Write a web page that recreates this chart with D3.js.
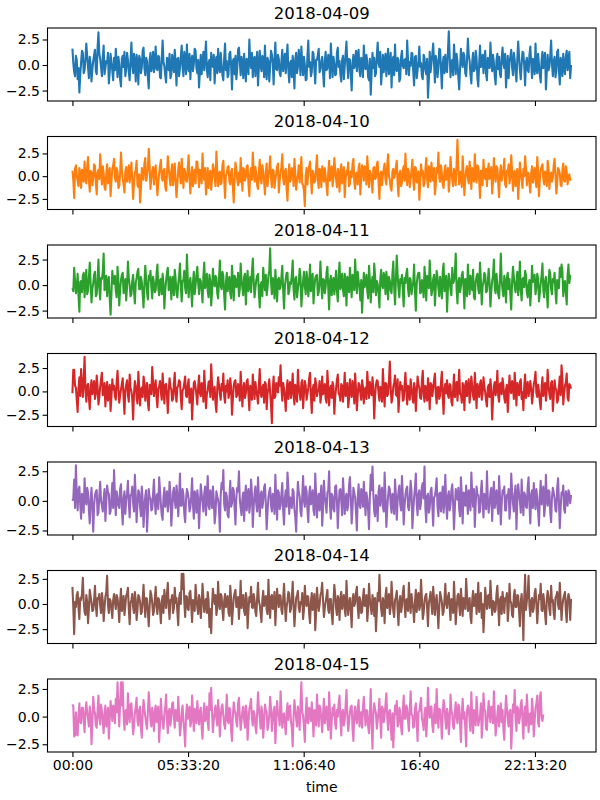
<!DOCTYPE html>
<html>
<head>
<meta charset="utf-8">
<script src="https://cdn.jsdelivr.net/npm/d3@7"></script>
<style>
  body { margin: 0; background: #fff; }
  text { font-family: "DejaVu Sans", sans-serif; fill: #000; }
</style>
</head>
<body>
<div id="chart"></div>
<script>
// one value every 150 s, seconds since midnight
const stepSeconds = 150;

const days = ["2018-04-09", "2018-04-10", "2018-04-11", "2018-04-12", "2018-04-13", "2018-04-14", "2018-04-15"];
const colors = ["#1f77b4", "#ff7f0e", "#2ca02c", "#d62728", "#9467bd", "#8c564b", "#e377c2"];

const xTicks = [0, 20000, 40000, 60000, 80000];
const xTickLabels = ["00:00", "05:33:20", "11:06:40", "16:40", "22:13:20"];
const yTicks = [-2.5, 0, 2.5];

const day09 = [
  1.6, 0.2, -0.7, -1.1, 0.9, 0.5, -1.4, -0.3, -2.7, -1.0, 0.3, 1.4, 1.2, -0.8, -0.5, 0.6, 2.1, 0.9, -0.2, -1.3, 0.8, 0.1, -1.6, -0.4, 0.4, 1.0, 1.5, -0.6, -0.9, 1.7, 3.2, 1.1, 0.6, -0.2, -1.1, 0.8, 1.9, -0.9, -0.3, 0.4, 0.2, 1.2, -1.8, -0.7, 1.1, 0.3, -0.6, -1.5,
  0.7, -0.5, 1.6, 0.3, -1.2, 0.8, 0.1, -1.4, -2.1, 0.6, 0.9, -0.2, 1.3, -1.1, -0.4, 1.2, 0.5, -0.7, -1.5, 0.4, 2.2, 0.0, -0.8, 1.1, 0.3, -1.6, 1.0, 0.2, -1.9, 0.9, 0.6, -0.8, -0.2, 1.4, 1.7, -0.3, -1.0, 0.7, 0.4, -1.2, -2.3, 0.5, 1.2, -0.6, 0.0, 1.3, -0.7, 0.2,
  1.8, -0.4, -0.5, 0.9, 0.8, -1.2, -1.3, 0.5, 2.4, 0.3, -0.1, -1.0, -1.7, 0.7, 0.6, -0.5, 1.1, -1.3, -0.9, 1.0, 0.2, -0.7, 1.5, 0.2, -2.0, 0.6, 0.7, -1.1, -0.3, 0.8, 1.9, -0.2, -1.1, 1.3, 0.4, -0.9, 2.0, -0.1, -0.6, 1.1, -1.4, 0.4, 0.9, -0.6, 0.1, 1.6, 1.4, -0.3,
  -0.8, 0.5, -2.2, -0.6, 1.0, -0.9, 0.3, 1.3, -0.5, 0.8, 2.3, -0.4, -1.2, 0.2, 0.5, -1.5, 1.2, 0.1, -0.2, 1.0, -1.8, 0.3, 0.8, -0.8, 1.6, -0.3, -0.7, 1.2, 0.0, -1.0, -1.5, 0.7, 2.1, -0.5, 0.4, -1.2, -0.9, 1.1, 1.3, -0.1, -2.4, 0.4, 0.6, -0.9, 0.9, -1.4, -0.4, 1.5,
  1.7, 0.3, -1.0, 0.8, 0.2, -1.3, 1.1, -0.2, -1.6, 0.6, 0.5, -0.9, 2.5, 0.4, -0.3, 1.2, -1.2, 0.5, 0.8, -1.1, 0.1, 1.3, -2.0, -0.3, 1.4, 0.0, -0.6, 0.9, 0.7, -1.2, 1.9, -0.5, -1.4, 0.7, 0.3, -1.6, -0.1, 1.4, 1.0, 0.2, -1.9, 0.6, 2.2, -0.4, -0.5, 1.0, 0.6, -0.8,
  -1.1, 0.4, 1.5, -0.6, 0.2, 1.1, -0.8, 0.7, 2.0, -0.5, -1.7, 0.2, 0.4, -1.2, 0.9, -0.3, -2.3, 0.6, 1.2, -0.8, -0.2, 1.5, 0.6, -1.0, 1.8, 0.1, -1.0, 0.8, 0.0, -1.5, -1.4, 0.9, 2.4, -0.2, 0.3, -1.1, -0.7, 1.3, 1.1, -0.4, -1.8, 0.5, 0.5, 1.0, 1.6, -0.7, -0.4, 0.3,
  0.8, -0.7, -2.1, 0.4, 1.3, -0.5, -0.3, 1.0, 0.7, -1.3, 2.1, 0.3, -1.2, 0.8, 0.1, -1.0, -0.9, 1.2, 1.7, -0.2, 0.4, -0.9, -1.6, 0.5, 0.9, -1.4, -0.1, 1.1, 2.3, 0.0, -1.3, 0.6, 0.5, -0.8, -2.5, 0.2, 1.0, -0.3, 0.2, 1.4, -0.6, 0.9, 1.5, -0.6, -1.1, 0.7, 0.6, -1.2,
  1.9, 0.1, -0.4, 1.0, 0.3, -1.2, -1.5, 0.6, -2.9, -0.8, 1.2, -0.3, 0.7, -1.1, -0.8, 0.9, 2.2, 0.2, -0.2, 1.3, -1.9, -0.5, 1.0, -0.7, 0.4, 1.1, -1.1, 0.4, 1.6, -0.9, 0.0, 1.2, -2.2, 0.3, 0.8, -1.0, 2.0, -0.4, -0.6, 0.7, 0.5, -1.6, -1.3, 0.8, 1.4, -0.1, -0.3, 0.5,
  0.6, -0.9, 2.4, 0.5, -1.0, 0.3, -0.1, 1.2, 1.1, -0.6, -2.0, 0.8, 0.9, -1.3, -0.5, 0.4, 1.8, -0.2, 0.2, -1.1, -1.4, 1.0, 0.7, -0.5, -0.9, 0.6, -3.2, -1.4, 1.3, -0.7, 0.1, 1.1, 2.1, 0.2, -1.7, 0.9, 0.4, -1.2, -0.3, 1.6, 1.5, -0.4, -2.3, 0.1, 0.8, -0.8, 1.0, -0.5,
  -0.7, 1.3, 3.3, 0.9, -1.2, 0.2, 0.5, -1.0, 2.0, 0.6, -0.9, 1.1, 0.3, -1.2, -2.4, -0.3, 1.6, 0.4, -0.2, 1.2, 0.9, -0.8, -1.1, 0.5, 2.6, 1.0, 0.4, -0.9, -1.8, 0.3, 1.2, -0.6, -0.4, 1.4, 0.7, -1.3, -2.1, 0.1, 1.9, -0.2, 0.0, 1.0, -0.8, 0.6, 1.4, -0.9, -1.5, 0.7,
  0.6, -0.3, 2.2, 0.4, -0.6, 1.0, 0.2, -1.1, -1.9, 0.5, 1.1, -0.4, 0.8, -0.9, -1.2, 0.7, 1.7, 0.2, -0.3, 1.1, -2.2, -0.6, 0.9, -1.3, 0.3, 0.8, 1.5, -0.2, -1.0, 1.2, 0.5, -0.8, -1.6, 0.6, 2.3, 0.9, -0.5, -1.4, 0.1, 1.3, 1.2, -0.1, -2.0, 0.3, 0.7, -0.5, -0.7, 1.0,
  1.8, 0.2, -1.3, 0.6, 0.4, -0.9, 2.1, -0.4, -0.8, 1.1, 0.0, -1.0, -1.7, 0.5, 1.3, -0.3, 0.6, 1.2, -2.4, -0.7, 1.0, -0.5, -0.2, 0.9, 2.4, 0.1, -1.1, 0.4, 0.8, -1.2, -0.6, 1.3, 1.5, -0.6, -1.9, 0.7, 0.3, -1.1, 1.1, -0.2, -0.9, 0.8, 1.4, -0.5, 0.5, 1.3, -1.3, 0.0
];

const day10 = [
  0.6, -0.4, -2.4, 0.8, 1.2, 0.1, -0.5, -1.1, 0.9, 0.3, -1.3, 0.7, 0.2, -0.6, 1.6, -0.2, -0.8, 1.0, 2.1, -0.5, -1.7, 0.6, 0.4, -1.0, -0.2, 1.3, 1.1, -0.7, -2.0, 0.4, 0.7, -0.3, 2.4, 0.5, -0.9, 1.1, 0.3, -1.2, -1.5, 0.2, 1.3, -0.8, 0.0, 0.9, -2.2, -0.5, 0.8, 1.2,
  1.9, -0.2, -0.6, 0.9, 0.5, -1.3, -1.1, 0.4, 2.6, 0.7, -0.3, -0.9, -1.8, 0.5, 1.0, -0.6, 0.2, 1.2, -0.7, 0.3, 1.5, -0.4, -2.5, -0.8, 0.4, 0.6, 1.7, -1.0, -1.2, 0.2, -2.9, -1.4, 0.9, 0.3, -0.4, 1.4, 2.0, -0.5, 0.1, 0.8, 3.0, 1.2, -1.4, -0.1, 0.6, 1.0, -0.9, 0.4,
  1.2, -0.5, -2.1, -0.7, 0.3, 1.1, 1.8, -0.2, -0.5, 0.6, 0.8, -1.2, -1.6, 0.3, 2.2, 0.9, -0.1, -1.0, 0.5, 1.3, -1.0, 0.2, 1.4, -0.6, -2.3, -0.9, 0.7, 1.5, 0.0, -0.8, 1.9, 0.4, -1.3, 0.8, 0.4, -0.5, -0.6, 1.0, 2.3, -0.3, -1.9, 0.1, 1.0, -1.1, 0.2, 0.7, -0.8, 1.6,
  1.6, 0.2, -1.2, 0.7, 0.6, -0.8, 2.5, 0.4, -0.4, 0.9, -2.0, -0.6, 0.9, -1.3, 0.1, 0.6, -1.5, -0.2, 1.3, 0.8, -0.2, -1.1, 2.7, 0.5, -1.1, 0.3, 0.5, -0.9, -0.7, 1.2, 1.7, -0.4, -2.4, 0.1, 0.3, 1.0, 1.1, -0.6, -0.9, 0.5, 0.8, -1.2, -2.9, -0.3, 1.5, 0.8, -0.3, -1.0,
  0.4, -0.7, 2.0, 0.3, -1.6, 0.9, 0.7, -0.5, -0.1, 1.1, 1.2, -0.9, -2.2, 0.2, 0.9, -0.4, 2.6, 0.6, -0.6, 1.0, 0.2, -1.0, -1.4, 0.5, 1.8, -0.3, -0.8, 1.2, 0.5, -0.6, -2.0, 0.4, 1.4, -1.1, 0.0, 0.8, 2.2, -0.2, -1.2, 0.7, 0.6, -1.3, -0.4, 0.3, 1.0, 1.4, -1.8, -0.5,
  0.3, 1.0, 2.4, -0.3, -0.9, 0.5, 0.8, -1.4, -2.7, 0.2, 1.3, -0.6, -0.2, 0.9, 0.6, -1.1, 1.9, 0.3, -1.5, -0.4, 0.1, 1.2, -0.7, 0.4, 2.1, -0.8, -1.0, -1.6, -3.3, 0.1, 0.9, -0.9, 0.4, 1.1, 1.6, -0.2, -1.9, 0.6, 0.2, -0.7, -0.5, 1.0, 2.3, -0.4, -1.3, 0.8, 0.7, -1.2,
  1.1, 0.3, -0.6, 0.9, 0.0, -1.0, -2.1, 0.4, 1.7, -0.5, 0.5, 1.1, -1.1, -0.2, 2.0, 0.7, -0.3, -1.2, 0.8, 0.1, -1.7, 0.6, 1.3, -0.8, 0.2, 1.0, -2.3, -0.4, 0.6, 0.2, 1.5, -1.1, -0.8, 0.5, -0.1, 1.3, 1.9, -0.6, -1.4, 0.3, 0.4, -0.9, 0.9, 1.4, -2.0, -0.2, 1.2, 0.6,
  -0.5, 1.1, 0.7, -0.9, 2.2, 0.4, -1.2, 0.6, 0.3, -0.6, -1.8, 0.9, 1.0, -0.3, -0.2, 1.3, 1.6, -0.7, -2.5, 0.2, 0.5, -1.0, 0.1, 0.8, 1.4, -0.4, -0.9, 1.2, 2.4, 0.0, -0.4, -1.3, -1.6, 0.5, 0.8, -0.2, 0.2, 1.0, 1.7, -0.8, -2.2, 0.3, 0.6, -1.1, -0.7, 0.7, 1.1, -0.5,
  2.5, 0.2, -1.0, 0.8, 0.4, -1.2, -0.3, 0.6, 1.8, -0.4, -1.5, 1.0, 0.9, -0.7, 0.0, 0.5, -2.6, -0.9, 1.3, 0.1, 0.6, -1.1, -0.8, 0.7, 2.0, -0.3, -1.2, 1.1, 0.2, -0.6, 1.5, 0.3, -0.5, 0.9, -2.0, -1.0, 0.9, 0.4, 2.6, -0.2, -0.6, 1.2, 0.3, -0.9, -1.3, 0.5, 1.2, -0.4,
  0.1, 0.9, -1.7, -0.5, 2.1, 0.6, -0.4, -1.1, 0.8, 0.3, -1.0, 1.4, 4.0, 0.8, -0.9, 0.4, 0.5, -1.2, 2.2, 0.2, -2.1, -0.3, 0.7, 1.1, -0.2, -0.8, 1.6, 0.5, -1.4, 0.9, 0.3, -0.6, 2.4, 0.1, -0.7, 1.2, 1.0, -0.4, -2.4, 0.6, 0.6, -1.0, 1.8, 0.2, -0.3, 0.8, -1.1, 0.5,
  1.4, -0.3, 0.2, 1.0, -1.9, -0.6, 2.0, 0.4, -0.6, 1.1, 0.9, -0.8, -2.3, 0.3, 1.2, -0.5, 0.0, 0.7, 1.9, -0.9, -1.2, 0.6, 0.4, 1.3, -0.8, -0.1, 2.3, 0.5, -1.6, 0.2, 0.6, -1.1, 0.1, 0.8, -2.5, -0.7, 1.5, 0.4, -0.4, -1.3, 0.8, 0.0, 2.2, 0.9, -1.0, 0.4, 0.3, -0.9,
  -1.8, 0.3, 1.1, -0.7, 0.5, 0.9, -0.5, -1.2, 2.1, 0.6, -2.2, -0.4, 0.7, 1.0, 1.3, -0.3, -0.9, 0.5, 0.2, -1.1, 1.7, 0.8, -1.4, 0.1, 0.4, -0.6, -0.1, 1.2, 1.9, 0.2, -1.9, -0.8, 0.9, 0.7, 0.3, -1.0, -1.1, 0.6, 1.4, -0.5, -0.6, 1.1, 0.5, -0.9, -0.2, 0.2, -0.4, -0.3
];

const day11 = [
  -0.3, -0.6, 1.7, 0.4, -0.8, -0.2, 1.1, -1.0, -2.6, 0.3, 0.4, -0.7, 0.9, 1.2, -1.2, 0.5, 1.5, -0.9, -0.5, 0.8, 2.2, 0.1, -1.7, -0.4, 0.2, 1.0, 1.3, -1.1, -0.9, 0.6, 2.5, -0.3, -1.4, 0.7, 0.6, 1.3, 3.1, -0.5, -0.2, 0.9, -1.1, 0.2, 0.8, -1.3, -2.9, -0.8, 1.4, 0.4,
  0.1, 0.9, -0.6, -1.2, 1.8, 0.3, -2.0, -0.5, 0.5, 1.0, 1.2, -0.8, -0.3, 0.6, -1.5, -0.1, 2.3, 0.7, 0.0, -1.1, -0.9, 0.4, 1.0, -0.6, -1.8, 0.2, 0.7, 1.3, 1.6, -0.4, -0.4, 0.8, 0.3, -0.9, -2.2, 0.1, 1.9, 0.6, -0.7, -1.4, 0.9, 0.5, 1.4, -0.2, -1.3, 0.8, 0.2, -0.7,
  -0.5, 1.1, 2.0, -0.3, -1.0, 0.5, 0.6, -0.9, 1.1, 0.2, -2.3, -0.6, 0.4, 1.2, 1.7, -0.5, -0.2, 0.8, -1.4, 0.3, 0.8, -1.0, 1.5, 0.6, -0.8, -1.2, 0.1, 0.9, 2.1, -0.2, -1.6, 0.4, 0.5, 1.4, -0.3, -0.8, 3.0, 0.7, -1.2, 0.1, 0.7, -0.6, -2.1, 0.3, 1.3, -0.9, 0.0, 1.0,
  1.8, 0.2, -0.9, 0.6, 0.4, -0.5, -1.7, 0.8, 2.2, -0.3, 0.2, 1.1, -0.6, -1.2, 1.0, 0.4, -2.0, -0.7, 1.6, 0.3, -0.1, 0.9, 0.7, -0.8, -1.3, 0.5, 2.4, -0.1, -0.4, 1.3, 0.9, -1.0, -2.4, 0.2, 1.2, -0.6, 0.3, 0.8, -0.8, -1.3, 1.9, 0.4, -1.5, 0.9, 0.6, -0.2, 0.1, 1.2,
  -1.1, -0.4, 2.1, 0.5, -0.3, -1.0, 0.8, 1.1, -1.9, 0.2, 1.4, -0.6, 0.0, 0.8, -0.7, 1.3, 2.6, 0.4, -1.2, -0.3, 0.5, 0.9, 1.1, -0.8, -2.2, 0.0, 0.3, -1.1, 1.7, 0.6, -0.5, 1.0, -1.0, -0.2, 0.9, 1.4, 3.6, 0.3, -0.9, 0.7, 0.2, -1.3, 1.5, 0.1, -1.6, 0.5, 0.7, -0.4,
  -0.2, 0.8, 1.9, -0.5, -2.3, -0.1, 0.6, 1.2, 1.2, -0.9, -0.6, 0.3, 0.1, 1.0, 2.4, -0.4, -1.4, 0.6, 0.8, -1.2, -0.4, 0.2, 1.6, 0.9, -2.1, -0.7, 0.4, 1.3, -0.1, -0.9, 1.3, 0.5, -1.1, 0.1, 2.0, -0.6, 0.2, 1.1, -1.8, -0.3, 0.7, 0.9, 1.0, -1.0, -0.7, 0.4, 2.3, 0.0,
  -1.3, 0.6, 0.5, -0.8, -0.2, 1.2, 1.8, -0.3, -2.4, 0.4, 0.9, -1.0, 0.3, 0.7, -0.9, 0.1, 1.4, -0.6, -1.6, 0.9, 2.2, -0.4, 0.0, 1.1, -0.5, -1.1, 1.1, 0.3, -2.0, 0.8, 0.6, -0.7, 1.7, 0.2, -1.2, 1.0, 0.2, -0.5, 2.5, 0.6, -0.8, 1.3, 0.4, -0.3, -1.5, 0.5, -2.7, -0.6,
  1.2, -0.2, 0.3, 1.0, -0.6, -1.3, 1.9, 0.5, -1.7, 0.2, 0.8, -0.7, 2.1, 0.9, -1.0, 0.4, 0.1, -0.8, -2.2, 0.6, 1.5, -0.1, -0.3, 1.2, 0.7, -0.9, 1.3, 0.3, -1.4, 0.8, 0.4, -0.5, -0.8, 1.1, 2.3, -0.2, -1.9, 0.5, 2.9, 1.0, -0.4, -1.2, 0.6, 0.2, 1.0, -0.6, -2.1, 0.7,
  0.2, 1.1, 1.6, -0.4, -1.1, 0.7, 0.5, -0.9, -0.2, 0.3, 2.0, -0.6, -2.5, 0.1, 0.9, 1.2, 1.2, -0.8, -0.7, 0.5, 0.0, -1.2, 1.8, 0.4, -1.5, 0.9, 0.3, -0.3, 2.4, 0.6, -1.0, -0.5, 0.6, 1.0, -2.0, -0.2, 1.4, 0.8, -0.3, -1.1, 0.8, 0.2, -1.3, 1.3, 2.1, -0.6, 0.1, 0.9,
  -2.6, -0.3, 1.1, 0.5, -0.5, -1.0, 1.7, 0.2, 0.4, 1.2, 3.1, -0.4, -1.8, 0.3, 0.7, -0.7, -0.1, 1.0, 1.3, -0.2, -2.3, 0.6, 0.5, -1.1, 2.0, 0.4, -0.9, 0.9, 0.2, -0.5, 1.5, -1.2, -1.4, 0.3, 0.8, 1.1, -0.4, -0.8, 2.2, 0.5, -1.9, -0.1, 0.3, 1.2, 1.0, -0.7, -0.6, 0.4,
  1.6, 0.2, -2.1, -0.6, 0.4, 0.9, 2.5, -0.3, -0.8, 1.1, 0.1, -0.9, -1.3, 0.6, 3.1, 0.4, -0.5, -1.1, 0.9, 0.2, -1.7, 0.7, 1.2, -0.4, 0.6, -1.0, -2.4, 0.3, 1.8, 0.8, -0.2, -0.7, 0.3, 1.3, -1.0, 0.1, 2.3, -0.5, -1.5, 0.6, 0.7, -0.2, 1.4, 1.0, -0.7, -1.2, 0.0, 0.5,
  -2.0, -0.4, 1.9, 0.3, 0.5, 1.0, -0.9, -0.2, 1.1, 0.6, -1.6, -0.8, 0.2, 0.9, 2.1, -0.5, -1.2, 0.4, 0.8, -0.6, -2.2, 0.1, 1.5, 1.1, -0.4, -0.9, 0.6, 0.3, 1.2, -0.7, -1.8, 0.5, 0.3, -0.3, 1.7, 0.8, 2.0, 1.4, -1.1, 0.2, 0.4, -0.8, -1.9, 1.0, 2.0, 0.2, 0.9, 0.9
];

const day12 = [
  -0.2, 2.3, 2.3, 0.6, 0.4, -0.9, -2.2, 0.3, 1.5, -0.5, 2.4, 0.8, -0.6, 1.2, 3.7, 0.2, -1.1, 0.6, 0.8, -0.7, -1.9, 0.4, 1.2, -0.3, 0.3, 1.1, -0.8, -0.2, 1.7, 0.5, -1.4, -0.6, 0.5, 1.3, 2.0, -0.4, -0.3, 0.9, -1.6, 0.1, 1.0, -1.0, 0.1, 0.7, -2.1, -0.5, 1.3, 0.2,
  0.6, -0.5, -0.9, 1.0, 2.2, 0.3, -1.2, -0.4, 0.2, 0.8, 1.4, -0.7, -2.4, 0.1, 0.7, 1.2, -0.4, -1.1, 1.8, 0.4, 0.0, -0.8, -3.0, -0.2, 1.1, 0.6, -0.7, -1.3, 2.1, 0.5, -1.5, 0.2, 0.4, -0.6, 1.6, 0.9, -1.0, 0.3, 0.9, -1.2, -2.0, 0.7, 0.3, -0.3, 2.6, 1.0, -0.5, 0.4,
  1.2, -0.6, -1.7, 0.3, 0.5, 1.1, -0.1, -0.9, 1.9, 0.2, -1.3, 0.7, 0.8, -0.4, -2.3, -0.1, 1.4, 0.5, 0.2, -1.0, -0.8, 0.8, 2.0, -0.3, -1.1, 0.4, 0.6, 1.2, 1.0, -0.7, -1.9, 0.1, 0.3, 0.9, 1.6, -0.5, -0.6, 0.6, 1.3, -1.2, -0.2, 0.3, -3.0, -0.8, 0.9, 1.1, 0.4, -0.4,
  -1.4, 0.5, 1.7, -0.2, -0.5, 0.9, 0.7, -1.1, 2.2, 0.4, -1.8, -0.3, 0.1, 1.0, 1.1, -0.6, 2.9, 0.8, -0.9, 0.2, 0.5, -1.3, -2.2, 0.3, 1.5, 0.7, -0.3, -0.9, 0.8, 0.1, 1.9, -0.5, -1.2, 0.6, 0.0, 1.2, -0.7, -0.2, 1.4, 0.4, -2.5, -0.8, 0.6, 1.1, 1.2, -0.6, -0.4, 0.8,
  0.3, -1.0, 2.1, 0.5, -1.6, 0.2, 0.9, -0.7, -0.2, 1.1, 1.3, -0.4, -2.0, 0.6, 0.5, -0.9, 1.8, 0.3, -0.8, 1.0, 0.2, -0.5, -1.3, 0.7, 2.4, -0.2, -0.6, 0.4, 0.7, -1.2, 1.0, 0.8, -1.9, -0.3, 0.4, 1.3, -0.1, -1.4, -3.4, 0.2, 1.6, -0.7, -0.5, 0.9, 0.8, -0.1, 1.5, 0.6,
  2.8, 0.4, -1.0, 0.9, 0.3, -0.6, -2.1, 0.1, 1.2, -0.8, 0.6, 1.0, -0.7, 0.3, 1.9, -0.4, -1.4, 0.7, 0.1, -1.1, 2.3, 0.5, -0.3, -0.9, 0.9, 1.2, -1.8, -0.2, 1.1, 0.6, -0.9, -0.3, 0.4, 1.4, 2.0, -0.6, -2.3, 0.2, 0.7, -1.0, 1.4, 0.8, -0.5, 0.0, 0.2, 1.1, -1.2, -0.4,
  1.6, -0.3, 0.0, 0.8, -0.8, -1.2, 2.2, 0.4, -1.5, 0.3, 0.6, -0.7, 1.0, 0.5, -2.4, -0.6, 0.3, 1.2, 1.8, -0.2, -0.4, -1.0, 0.8, 0.6, -1.1, 0.2, 2.0, -0.5, 0.2, 0.9, -1.7, -0.8, 1.3, 0.1, -0.6, 1.1, 0.5, -1.3, 1.9, 0.3, -2.0, -0.4, 0.9, 0.7, -0.2, -0.9, 1.2, 0.5,
  -1.3, 0.2, 0.4, -0.8, 2.1, 0.6, -0.7, 1.0, 0.1, -0.4, 1.5, 0.3, -2.9, -0.6, 0.7, 1.2, 1.1, -0.2, -1.0, 0.5, 0.3, -1.1, 2.4, 0.2, -1.6, 0.9, 0.8, -0.5, -0.3, 1.1, 3.2, 0.4, -1.2, -0.7, 0.5, 0.9, 1.7, -0.3, -0.5, 1.3, -2.2, -0.6, 1.0, 0.2, 0.6, -1.0, -0.9, 0.7,
  2.0, 0.1, -1.4, 0.6, 0.2, -0.9, 1.3, 0.4, -0.6, -1.2, 0.9, 0.3, -2.1, -0.2, 1.6, 0.8, 0.4, -0.7, -0.8, 1.1, 2.2, -0.4, -1.1, 0.6, 0.0, -1.0, 1.4, 0.2, -1.9, 0.9, 0.7, -0.5, 0.3, 1.2, 1.9, -0.3, -1.3, 0.4, 0.5, -0.8, -0.4, 1.0, 2.1, -0.6, -2.4, 0.3, 0.8, -0.2,
  1.2, -0.4, -0.7, 0.8, 0.6, -1.1, -1.5, 0.2, 1.8, -0.6, 0.1, 1.0, -1.0, 0.5, 2.3, -0.3, -0.3, -1.2, 0.9, 0.4, -2.0, 0.7, 1.1, -0.5, 0.4, 1.3, -1.2, -0.1, 1.6, 0.6, -0.5, -0.9, 2.0, 0.3, -1.8, 0.8, 0.3, -0.6, 0.8, 1.2, -0.9, -0.2, 1.5, 0.5, -0.1, -1.0, -1.6, 0.4,
  0.7, -0.6, 1.3, 0.2, -3.0, -0.9, 0.5, 1.0, -0.4, 0.3, 2.2, -0.5, -1.1, 0.8, 0.9, -0.3, 1.4, 0.6, -0.7, -1.2, 0.2, 0.7, -2.2, -0.4, 1.7, 0.1, -0.2, 1.1, 0.6, -0.8, 2.0, 0.4, -1.5, 0.9, 0.3, -0.4, 1.0, 1.3, -0.8, -0.1, -2.0, 0.5, 1.8, -0.7, 0.4, 1.0, -0.5, 0.2,
  1.1, 0.3, -1.3, -0.4, 0.8, 1.2, 2.1, -0.2, -0.6, 0.7, 0.0, -1.1, -1.9, 0.4, 1.5, -0.5, 0.5, 0.9, -1.0, 0.1, 2.3, 0.6, -0.3, -0.8, 0.9, 1.1, -2.1, -0.6, 1.2, 0.3, 0.2, -1.2, -0.9, 0.5, 1.6, -0.4, 2.8, 1.4, -1.4, -0.2, 0.6, 1.0, 1.9, -0.7, -1.0, 0.8, 0.6, 0.3
];

const day13 = [
  0.0, 0.2, 1.8, -0.6, 3.0, 0.5, -0.8, 0.9, 1.2, -0.3, -1.5, 0.6, 0.4, -1.0, 1.9, 0.3, -0.3, 1.1, 0.7, -0.8, -1.9, 0.1, 1.1, -0.5, -2.6, -0.4, 0.5, 0.8, 0.9, -1.2, -1.0, 0.4, 1.6, 0.0, -0.4, -0.9, 0.2, 1.0, -1.7, -0.2, 1.3, 0.7, 0.6, -1.1, -0.9, 0.3, 1.5, -0.6,
  2.6, 0.3, -1.2, 0.8, 0.3, -0.4, -0.6, 1.0, 1.4, -0.7, -2.0, 0.2, 0.8, -1.1, 0.1, 0.6, 1.7, -0.2, -1.4, 0.5, 0.5, 1.2, -0.2, -0.9, 2.2, 0.4, -1.8, -0.3, 0.9, 0.7, -0.5, -1.3, 1.2, 0.1, -2.2, -0.6, 0.4, 0.9, -2.6, -1.0, 1.0, 0.3, 0.2, -0.8, -0.7, 0.6, 1.8, -0.1,
  -1.1, 0.4, 0.6, -0.7, 2.0, 0.9, -0.3, -1.2, -1.6, 0.3, 1.1, -0.5, 0.3, 0.8, -0.9, -0.2, 1.6, 0.6, -2.1, -0.8, 0.7, 1.1, 0.0, -0.6, 1.3, 0.5, -1.3, 0.2, 2.3, -0.4, -0.4, 1.0, 0.5, -1.1, -1.8, 0.1, 1.0, 0.7, 0.2, -0.9, -0.6, 0.4, 1.9, -0.3, -1.5, 0.8, 0.4, -1.0,
  0.9, 0.2, -2.3, -0.5, 1.4, 0.6, -0.1, -0.9, 0.6, 1.2, -1.2, 0.3, 2.1, -0.4, -0.7, 0.9, 0.3, -0.6, 1.2, 0.1, -1.9, -1.1, 0.8, 0.4, 0.1, -0.7, -2.6, 0.5, 1.5, 1.0, 2.6, -0.3, -0.8, 0.7, 0.4, -1.2, -1.4, 0.2, 1.7, -0.5, -0.2, 1.1, 0.9, -0.6, -2.0, 0.3, 1.1, 0.8,
  2.5, 0.1, -0.6, -1.2, 0.2, 0.7, -1.7, 0.4, 1.3, -0.8, 0.5, 1.0, -1.0, -0.3, 1.8, 0.6, -2.2, -0.5, 0.6, 1.2, -0.3, -0.9, 2.0, 0.3, -1.3, 0.5, 0.8, -0.6, 0.0, 1.1, 1.4, -0.2, -2.4, -0.9, 0.3, 0.8, 1.1, -0.4, -0.9, 0.6, 0.5, -1.1, 2.2, 0.2, -1.6, 0.9, 0.7, -0.7,
  -0.4, 0.6, 1.5, -0.8, -2.0, 0.2, 0.9, -0.5, 2.4, 1.1, -1.1, 0.3, 0.2, -0.6, 1.0, 0.8, -0.7, -1.4, -2.6, -0.1, 1.6, 0.7, 0.4, -0.9, -1.3, 0.4, 2.1, 0.0, -0.5, 1.2, 0.8, -0.7, -1.8, 0.5, 1.2, -0.3, 0.1, 0.9, -0.8, -1.2, 2.3, 0.6, -1.4, 0.2, 0.6, -0.8, 0.3, 1.3,
  -2.1, -0.6, 1.7, 0.4, -0.2, -1.0, 0.7, 0.9, 2.5, -0.4, -1.5, 0.6, 0.4, -0.7, -0.9, 1.2, 1.3, 0.1, -2.3, -0.5, 0.9, 1.0, 0.0, -1.2, 1.9, 0.5, -1.1, 0.2, 0.6, -0.8, -0.4, 1.3, 2.0, 0.3, -1.9, -0.6, 1.1, 0.7, 0.3, -1.0, -2.5, 0.2, 1.4, -0.3, -0.6, 1.0, 0.8, -0.5,
  1.6, 0.2, -1.2, 0.7, 0.2, -0.8, -2.4, 0.4, 2.2, 0.9, 2.9, 0.6, -0.9, -1.3, 0.5, 0.1, -1.7, 0.8, 1.3, -0.4, 0.7, 1.1, -0.5, -0.9, 2.4, 0.3, -2.2, -0.7, 0.4, 1.2, 1.0, -0.3, -1.0, 0.6, 0.1, -1.1, 1.8, 0.5, -1.6, 0.0, 0.8, 1.3, -0.3, -0.8, 2.1, 0.4, -2.0, -0.4,
  0.5, 1.0, 1.2, -0.5, -0.8, 0.3, 1.7, 0.8, -2.3, -0.9, 0.3, 1.1, 2.3, -0.2, -1.2, 0.5, 0.9, -0.7, -0.1, 1.2, 1.5, 0.2, 2.9, -0.6, -1.8, 0.4, 0.6, -1.0, -0.6, 0.8, 1.1, -0.4, -2.1, 0.3, 0.4, 1.0, 1.9, -0.5, -1.3, 0.6, 0.7, -0.9, 0.2, 1.2, -1.0, 0.1, 2.2, -0.3,
  -1.5, 0.4, 0.8, -0.8, -0.3, 0.9, 1.4, -0.2, -2.4, -0.6, 1.0, 0.5, 0.1, 1.1, -0.7, -1.3, 2.0, 0.3, -1.9, 0.7, 0.6, -0.4, 1.3, 0.1, -1.1, 0.9, 0.3, -0.8, 2.4, 0.6, -0.5, 1.0, -2.2, -0.3, 1.2, 0.5, 0.5, -1.0, -0.9, 0.8, 1.7, -0.1, -1.4, 0.6, 0.4, -0.7, 2.5, 0.2,
  -1.0, -0.3, 0.7, 1.1, -1.7, 0.2, 1.6, -0.6, 0.2, 0.9, -0.4, -1.1, 2.1, 0.4, -2.0, -0.2, 0.9, 0.6, 1.2, -0.8, -0.8, 0.5, 0.3, 1.0, -1.5, -0.4, 2.3, 0.8, -0.2, -0.9, 0.6, 1.3, -2.4, -0.1, 1.4, 0.6, 0.0, -1.0, 1.8, 0.2, -1.2, 0.7, 0.5, -0.5, -0.6, 1.2, 2.0, -0.3,
  -1.9, 0.5, 0.9, -0.6, 1.5, 0.2, -0.7, 1.0, 0.3, -0.9, -2.1, 0.4, 1.7, -0.3, 0.6, 1.2, -1.3, -0.5, 2.2, 0.1, -0.4, 0.9, 0.8, -1.0, -1.8, 0.3, 1.1, 0.7, 0.2, -0.8, -0.9, 1.1, 1.9, 0.0, -2.3, -0.6, 0.7, 0.5, 1.3, -0.7, -1.0, 0.8, 0.4, -0.4, 0.9, 0.6, -0.2, 0.5
];

const day14 = [
  1.7, -0.3, -3.0, 0.2, -0.3, 0.9, 1.2, -0.4, -1.5, 0.6, 0.4, 1.0, 2.6, 0.3, -0.8, -1.1, 0.9, 0.2, -1.9, -0.5, 1.4, 0.8, 0.1, -0.7, -0.6, 0.4, 1.8, -0.2, -1.2, 0.6, 0.5, 1.0, -0.2, -0.9, 1.1, 0.3, -1.7, -0.4, 0.7, 1.2, 2.8, -0.1, -0.9, 0.5, 0.3, -0.6, -1.4, 0.4,
  1.0, 0.2, -0.5, 0.9, 0.6, -0.4, -1.8, 0.3, 1.5, -0.7, 0.0, 0.8, -1.1, -0.2, 0.8, 1.1, 1.6, -0.5, -2.0, 0.1, 0.4, 1.0, -0.3, -0.9, 1.2, 0.4, -1.6, -0.6, 0.9, 0.7, 0.2, -1.0, -0.8, 0.5, 1.9, 0.0, -1.3, 0.6, 0.5, -0.8, -2.2, -0.3, 1.3, 0.9, 0.1, -1.1, -0.7, 0.5,
  1.7, -0.2, -1.0, 0.6, 0.4, -0.6, -1.9, 0.2, 0.8, -0.9, 1.4, 0.3, -0.4, 1.0, 2.1, -0.3, -1.5, 0.4, 0.3, 0.9, -0.9, -0.4, 1.6, 0.1, 0.6, -0.8, -2.1, 0.5, 1.1, 0.0, 3.0, 1.5, 3.0, 0.2, -1.3, 0.8, 0.7, -0.5, -0.6, 1.1, 1.3, -0.2, -1.8, 0.4, 0.2, -0.7, 1.9, 0.6,
  -0.3, -1.0, 0.9, 0.4, -1.4, -0.2, 2.0, 0.7, -0.8, 0.1, 0.5, -0.9, 1.2, 0.3, -2.3, -0.5, -2.9, -0.1, 1.5, 0.6, 0.0, 0.9, -1.1, -0.4, 2.2, 0.2, -0.5, 1.0, 0.8, -0.7, -1.6, 0.3, 1.0, -0.3, 0.3, 0.8, -0.9, -1.2, 1.8, 0.5, -2.0, -0.6, 0.6, 1.1, 1.4, -0.3, -0.2, 0.7,
  -1.5, 0.1, 2.3, -0.4, 0.2, 0.9, -0.7, -1.1, 1.1, 0.5, -2.4, -0.6, 0.7, 0.2, 1.7, -0.3, -0.4, 1.0, 0.4, -0.8, -1.2, 0.6, 2.1, 0.3, -0.1, -0.9, -1.8, 0.4, 1.3, -0.2, 0.5, 0.8, -0.6, -1.0, 2.4, 0.0, -1.4, 0.7, 0.9, -0.5, 0.1, 1.2, -2.1, -0.3, 1.5, 0.4, -0.3, 0.9,
  0.8, -0.6, -1.0, 0.5, 2.0, 0.1, -1.7, -0.3, 0.3, 1.2, 1.0, -0.8, -0.5, 0.6, 2.2, -0.1, -2.2, -0.7, 0.6, 0.9, 1.3, -0.4, -0.8, 0.2, 0.0, 1.1, -1.5, -0.5, 1.8, 0.3, -0.2, 0.8, 0.7, -1.0, -1.9, 0.2, 1.1, -0.6, 0.4, 1.0, -2.6, -0.9, 1.6, 0.4, -0.7, -0.1, 0.9, 1.2,
  2.1, 0.3, -1.3, -0.4, 0.2, 0.8, 1.4, -0.6, -0.9, 0.5, 0.5, -1.0, -2.0, 0.2, 1.9, 0.9, -0.4, -1.1, 0.8, 0.3, -1.6, 0.6, 1.2, -0.5, 0.3, 0.9, -0.6, -1.2, 2.3, 0.4, -1.1, 0.1, 0.6, -0.7, -2.3, 0.5, 1.0, -0.2, 0.1, 1.1, 1.7, -0.3, -1.4, 0.7, 0.4, -0.9, -0.8, 0.6,
  1.5, -0.2, 0.0, 0.9, -1.7, -0.5, 2.0, 0.4, -0.3, -1.0, 0.9, 0.2, -1.2, 0.6, -2.7, -0.8, 1.1, 0.3, 2.9, 0.7, -0.5, -1.2, 0.6, 0.1, -1.9, 0.8, 1.6, -0.4, 0.2, 1.0, -1.0, -0.3, 2.2, 0.5, -0.7, -1.3, 0.4, 0.7, 1.3, -0.6, -2.1, 0.2, 0.8, -0.8, -0.2, 1.1, 1.8, -0.1,
  -1.3, 0.4, 0.5, -0.7, 2.1, 0.2, -0.9, 1.0, 0.1, -0.5, -1.8, 0.3, 1.4, -0.8, 0.7, 1.1, -0.6, -0.2, 2.4, 0.6, -1.5, -0.9, 0.3, 0.8, 1.0, -0.4, -2.2, 0.1, 0.6, 1.2, -0.1, -1.0, 1.7, 0.5, -1.1, 0.2, 0.9, -0.6, -2.4, -0.3, 1.2, 0.7, 0.2, -1.1, -0.8, 0.4, 2.0, 0.0,
  -0.4, 0.7, 1.1, -0.3, -1.6, 0.5, 0.4, -0.9, 2.2, 0.3, -2.0, -0.6, 0.8, 1.0, -0.2, -1.1, 1.5, 0.2, -1.2, 0.6, 0.3, -0.5, 2.5, 0.9, -0.7, 0.1, 0.6, -1.3, -1.9, 0.4, 1.3, -0.2, 0.0, 1.0, -1.0, 0.3, 2.1, -0.8, 0.5, 1.1, -1.4, 0.0, -2.8, -0.9, 1.6, 0.5, -0.5, 0.8,
  0.9, -0.4, 2.3, 0.6, -1.1, 0.3, 0.2, -0.8, -0.6, 1.0, 1.8, -0.2, -2.1, 0.4, 0.7, -1.0, 1.2, 0.2, -0.9, 0.6, 0.4, 1.1, -1.7, -0.5, 2.0, 0.3, 0.1, -1.1, -1.3, 0.8, 1.4, -0.3, -0.3, 0.9, 0.8, -0.7, -2.2, 0.2, 1.0, -0.4, -3.6, 0.5, 2.9, -0.6, 0.3, 1.0, 2.8, -0.2,
  -1.2, 0.3, 0.6, -0.8, -0.4, 1.1, 1.5, 0.0, -1.9, -0.4, 0.9, 0.5, 2.0, -0.6, -0.7, 1.0, 0.2, -1.0, -2.0, 0.4, 1.3, 0.7, -0.5, -1.1, 1.8, 0.2, 0.4, -0.9, -1.5, 0.6, 0.8, 1.2, -0.1, -0.5, 2.1, 0.3, -1.6, -0.2, 0.5, 0.9, 1.2, -0.7, -1.8, 0.4, 1.0, 0.6, -1.6, 0.5
];

const day15 = [
  1.1, 0.9, -1.8, -1.7, 0.4, -1.6, -1.7, 0.2, 1.2, -0.5, -0.6, 0.8, 0.8, -0.3, -1.4, 0.5, 1.3, 0.4, -0.2, -0.9, 0.9, 0.2, -2.5, -0.6, 1.8, 0.7, 0.3, -0.8, -1.0, 0.6, 1.9, -0.1, -0.7, 1.1, 0.5, -0.4, -1.5, 0.3, 1.0, -0.9, 0.1, 0.8, -2.0, -0.2, 1.4, 0.5, -0.4, 1.0,
  0.7, -0.6, 1.6, 0.4, 3.1, 0.8, -0.9, 1.2, 3.1, 1.0, 3.1, 0.2, -1.2, 0.5, 0.6, -0.7, 2.1, 0.3, -0.5, 1.1, 1.2, -0.2, -1.6, -0.8, 0.3, 0.9, 1.7, -0.4, -0.8, 0.6, 0.9, -1.1, -1.9, 0.2, 1.5, 0.7, 0.0, -0.6, -1.1, 0.4, 2.2, 1.0, -0.3, -0.9, 0.8, 0.1, -1.3, 0.5,
  1.0, -0.5, 0.4, 0.9, -2.3, -0.7, 1.6, 0.2, -0.6, -1.1, 0.2, 0.8, 2.0, -0.3, -1.5, 0.5, 0.7, -0.8, -0.1, 1.2, 1.3, 0.0, -1.0, 0.6, 0.5, -0.4, 1.8, 0.3, -1.7, -0.9, 0.3, 1.0, -0.4, -1.3, -2.7, 0.1, 1.1, -0.2, 0.6, 0.9, -0.9, -0.5, 1.9, 0.4, -1.3, 0.7, 0.2, -0.6,
  1.4, 0.2, -0.7, 0.5, 0.8, -1.0, -2.0, 0.3, 1.2, -0.4, 0.0, 0.9, -0.5, -1.2, 2.1, 0.6, 2.6, 0.4, -1.4, -0.3, 0.4, 1.0, -0.2, -0.8, 1.5, 0.5, -1.8, -0.1, 0.9, 1.1, 0.1, -0.7, -1.1, 0.3, 2.0, -0.4, -0.6, 0.8, 0.6, -1.3, -2.2, 0.0, 1.3, 0.6, 0.3, -0.5, -0.9, 1.2,
  1.7, 0.1, -1.2, -0.4, 0.5, 0.9, -0.3, -1.0, 1.0, 0.4, -2.1, -0.6, 0.7, 1.1, 1.6, -0.2, -0.8, 0.5, 0.2, -0.9, -1.5, 0.3, 2.2, 0.8, -0.1, -1.1, 0.9, 0.2, -1.9, -0.5, 1.1, 0.6, 0.4, -1.2, -0.7, 0.1, 1.8, 0.7, -1.3, -0.3, 0.6, 0.9, -2.4, -0.6, 1.4, 0.3, 0.0, -0.8,
  2.3, 0.5, -1.0, 0.2, 0.3, -0.7, -1.6, 0.4, 1.2, -0.3, 0.8, 1.0, -0.4, -1.1, -2.7, 0.1, 1.5, 0.6, -0.2, -0.9, 0.9, 0.3, -1.2, 1.1, 3.1, 0.4, 0.1, -1.0, -2.3, 0.2, 1.7, -0.5, -0.6, 0.8, 0.5, -0.4, 1.3, 0.0, -1.8, 0.6, 0.2, -0.8, 2.0, 0.4, -0.9, 1.0, 0.7, -0.3,
  -1.4, 0.2, 1.6, -0.6, 0.3, 0.9, -0.5, -1.2, 2.2, 0.4, -2.0, -0.4, 0.8, 0.1, 1.1, -0.7, -1.1, 0.6, 0.0, 1.2, 1.9, -0.3, -1.7, 0.5, 0.6, -0.8, -0.3, 1.0, 2.4, 0.2, -1.3, -0.5, 0.4, 0.9, 1.0, -1.1, -2.2, 0.3, 0.9, -0.2, -0.6, 0.7, 1.5, -0.9, 0.2, 0.4, -1.0, 0.8,
  1.8, 0.3, -0.8, 0.6, 0.5, -0.9, -1.5, 0.2, 2.5, -0.6, -2.9, 0.1, 1.2, 0.7, 0.3, -1.1, -0.4, 0.5, 1.6, -0.3, -1.9, 0.9, 0.7, -0.5, 0.1, 1.1, 2.1, 0.0, -1.2, 0.4, 0.6, -0.7, -2.1, 0.3, -2.8, -0.6, 1.0, 0.2, 1.4, -0.9, -0.7, 0.8, 0.4, -1.0, -1.6, 0.5, 1.9, -0.2,
  -0.2, 1.0, 0.8, -0.4, -1.3, 0.6, 2.3, 0.2, 0.1, -1.0, -0.9, 0.7, 1.2, -0.5, -2.2, 0.4, 0.5, 1.1, 1.7, -0.2, -0.5, -1.2, 0.3, 0.8, -1.8, -0.4, 2.6, 0.5, -0.1, 0.9, 0.9, -0.8, -1.4, 0.2, 1.1, -0.6, 2.5, 0.3, -1.0, 0.7, 0.6, -0.3, -2.0, 0.4, 1.5, 1.0, -0.3, -1.1,
  0.7, 0.2, -1.6, -0.5, 2.0, 0.6, 0.2, -0.9, -1.1, 0.4, 1.3, 0.0, -0.6, 1.1, 0.9, -0.7, -2.3, 0.3, 1.6, -0.2, 0.4, -1.0, -2.7, 0.5, 1.0, 0.8, -0.4, -1.3, 2.2, 0.1, -1.5, 0.6, 0.3, -0.8, 1.8, 0.4, -0.8, -0.3, 0.0, 1.2, -1.9, -0.6, 2.1, 0.7, 0.5, -1.1, -1.2, 0.3,
  1.4, 0.1, -0.5, 0.9, 0.8, -0.6, 2.3, 0.4, -1.7, -0.8, 0.2, 1.0, -0.9, 0.3, 1.2, -0.5, 0.6, -1.2, -2.1, 0.2, 1.9, 0.8, -0.3, -0.9, 0.5, 0.6, -2.9, -1.0, 1.1, 0.4, 2.4, -0.2, -1.3, 0.9, 0.7, -0.6, -0.1, 1.1, 1.5, -0.4, -2.0, 0.3, 0.9, -0.8, 2.0, 0.6, -1.4, 0.2,
  0.3, -0.7, 1.6, 0.5, -1.8, -0.4, 0.8, 1.2, 1.9, -0.6, -0.9, 1.8, 2.2, 0.0, -0.4, 0.2
];

const series = [day09, day10, day11, day12, day13, day14, day15];

// layout (pixels)
const W = 600, H = 800;
const left = 47.5, right = 596;
const panelTop = 28, panelStep = 108.5, panelH = 73;

const svg = d3.select("#chart")
  .append("svg")
  .attr("width", W)
  .attr("height", H)
  .style("background", "#fff");

const rows = series.map(vals => vals.map((v, i) => ({t: i * stepSeconds, v: v})));

// shared x, matplotlib style 5% margins
const tMax = d3.max(rows, r => r[r.length - 1].t);
const x = d3.scaleLinear()
  .domain([-0.05 * tMax, tMax * 1.05])
  .range([left, right]);

rows.forEach((data, k) => {
  const top = panelTop + k * panelStep;
  const lo = d3.min(data, d => d.v), hi = d3.max(data, d => d.v);
  const pad = (hi - lo) * 0.05;
  const y = d3.scaleLinear()
    .domain([lo - pad, hi + pad])
    .range([top + panelH, top]);

  const g = svg.append("g");

  g.append("path")
    .datum(data)
    .attr("fill", "none")
    .attr("stroke", colors[k])
    .attr("stroke-width", 2.08)
    .attr("stroke-linejoin", "round")
    .attr("d", d3.line().x(d => x(d.t)).y(d => y(d.v)));

  // y axis
  const yAxis = g.append("g")
    .attr("transform", `translate(${left},0)`)
    .call(d3.axisLeft(y)
      .tickValues(yTicks)
      .tickSize(4.9)
      .tickPadding(2.6)
      .tickFormat(d => d3.format(".1f")(d).replace("-", "\u2212")));
  yAxis.select(".domain").remove();
  yAxis.selectAll("line").attr("stroke", "#000").attr("stroke-width", 1.1);
  yAxis.selectAll("text")
    .attr("font-family", "DejaVu Sans, sans-serif")
    .attr("font-size", 14)
    .attr("fill", "#000");

  // x axis (labels only on the last panel)
  const last = k === rows.length - 1;
  const xAxis = g.append("g")
    .attr("transform", `translate(0,${top + panelH})`)
    .call(d3.axisBottom(x)
      .tickValues(xTicks)
      .tickSize(4.9)
      .tickPadding(3.5)
      .tickFormat((d, i) => last ? xTickLabels[i] : ""));
  xAxis.select(".domain").remove();
  xAxis.selectAll("line").attr("stroke", "#000").attr("stroke-width", 1.1);
  xAxis.selectAll("text")
    .attr("font-family", "DejaVu Sans, sans-serif")
    .attr("font-size", 14)
    .attr("fill", "#000");

  // frame
  g.append("rect")
    .attr("x", left)
    .attr("y", top)
    .attr("width", right - left)
    .attr("height", panelH)
    .attr("fill", "none")
    .attr("stroke", "#000")
    .attr("stroke-width", 1.1);

  g.append("text")
    .attr("x", (left + right) / 2)
    .attr("y", top - 9.5)
    .attr("text-anchor", "middle")
    .attr("font-size", 16.5)
    .text(days[k]);
});

svg.append("text")
  .attr("x", (left + right) / 2)
  .attr("y", 792)
  .attr("text-anchor", "middle")
  .attr("font-size", 14)
  .text("time");
</script>
</body>
</html>
